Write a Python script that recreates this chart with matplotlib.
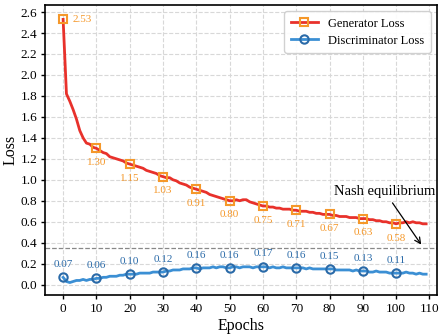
import matplotlib
matplotlib.use("Agg")
import matplotlib.pyplot as plt
import numpy as np

epochs = list(range(110))
gen_loss = [2.53, 1.82, 1.75, 1.67, 1.58, 1.47, 1.40, 1.35, 1.34, 1.31,
            1.30, 1.28, 1.26, 1.25, 1.22, 1.21, 1.20, 1.19, 1.18, 1.16,
            1.15, 1.14, 1.13, 1.12, 1.11, 1.09, 1.08, 1.07, 1.06, 1.04,
            1.03, 1.02, 1.02, 1.00, 0.99, 0.97, 0.96, 0.95, 0.93, 0.92,
            0.91, 0.90, 0.89, 0.88, 0.86, 0.85, 0.84, 0.83, 0.82, 0.81,
            0.80, 0.80, 0.81, 0.80, 0.81, 0.81, 0.79, 0.78, 0.77, 0.76,
            0.75, 0.75, 0.74, 0.74, 0.73, 0.73, 0.72, 0.72, 0.72, 0.71,
            0.71, 0.70, 0.70, 0.70, 0.69, 0.69, 0.68, 0.68, 0.67, 0.67,
            0.67, 0.66, 0.66, 0.65, 0.65, 0.65, 0.64, 0.64, 0.64, 0.63,
            0.63, 0.63, 0.62, 0.62, 0.61, 0.61, 0.60, 0.60, 0.59, 0.59,
            0.58, 0.59, 0.59, 0.60, 0.59, 0.60, 0.59, 0.59, 0.58, 0.58]
disc_loss = [0.07, 0.03, 0.02, 0.03, 0.04, 0.04, 0.05, 0.04, 0.05, 0.05,
             0.06, 0.06, 0.07, 0.07, 0.08, 0.08, 0.08, 0.09, 0.09, 0.10,
             0.10, 0.10, 0.10, 0.11, 0.11, 0.11, 0.11, 0.12, 0.12, 0.12,
             0.12, 0.13, 0.13, 0.14, 0.14, 0.14, 0.15, 0.15, 0.15, 0.16,
             0.16, 0.15, 0.16, 0.16, 0.16, 0.17, 0.16, 0.17, 0.17, 0.16,
             0.16, 0.17, 0.17, 0.16, 0.17, 0.17, 0.17, 0.16, 0.17, 0.17,
             0.17, 0.17, 0.16, 0.17, 0.16, 0.16, 0.17, 0.16, 0.16, 0.16,
             0.16, 0.16, 0.16, 0.15, 0.16, 0.15, 0.15, 0.15, 0.15, 0.15,
             0.15, 0.15, 0.14, 0.14, 0.14, 0.14, 0.14, 0.13, 0.14, 0.13,
             0.13, 0.13, 0.12, 0.12, 0.13, 0.12, 0.12, 0.12, 0.11, 0.11,
             0.11, 0.11, 0.11, 0.12, 0.11, 0.11, 0.10, 0.11, 0.10, 0.10]
marker_epochs = [0, 10, 20, 30, 40, 50, 60, 70, 80, 90, 100]
x_ticks = list(range(0, 111, 10))
y_ticks = [round(0.2 * i, 1) for i in range(14)]
equilibrium_level = 0.35
annot_text = "Nash equilibrium"
annot_xy = (108, 0.36)
annot_xytext = (96.5, 0.89)

plt.rcParams['font.family'] = ['Liberation Serif', 'DejaVu Serif']

red = '#e8312b'
orange = '#f5982a'
blue = '#3b8fd4'
dblue = '#2a6aa8'

fig = plt.figure(figsize=(4.48, 3.35), dpi=100)
ax = fig.add_axes([0.100, 0.119, 0.875, 0.866])

ax.plot(epochs, gen_loss, color=red, lw=2.0, marker='s', markevery=marker_epochs,
        markersize=6, markerfacecolor='none', markeredgecolor=orange, markeredgewidth=1.5,
        label='Generator Loss', zorder=3)
ax.plot(epochs, disc_loss, color=blue, lw=2.0, marker='o', markevery=marker_epochs,
        markersize=6, markerfacecolor='none', markeredgecolor=dblue, markeredgewidth=1.5,
        label='Discriminator Loss', zorder=3)

for e in marker_epochs:
    g = gen_loss[e]
    if e == 0:
        ax.annotate(f"{g:.2f}", (e, g), xytext=(7, 0), textcoords='offset points',
                    ha='left', va='center', fontsize=8, color=orange)
    else:
        ax.annotate(f"{g:.2f}", (e, g), xytext=(0, -7), textcoords='offset points',
                    ha='center', va='top', fontsize=8, color=orange)
    d = disc_loss[e]
    ax.annotate(f"{d:.2f}", (e, d), xytext=(0, 6), textcoords='offset points',
                ha='center', va='bottom', fontsize=8, color=dblue)

ax.axhline(equilibrium_level, color='#888888', ls='--', lw=0.9, zorder=1)
ax.annotate(annot_text, xy=annot_xy, xytext=annot_xytext, ha='center', va='center',
            fontsize=10.5, arrowprops=dict(arrowstyle='->', color='black', lw=0.9))

ax.set_xlim(-5.5, 112.2)
ax.set_ylim(-0.1, 2.667)
ax.set_xticks(x_ticks)
ax.set_yticks(y_ticks)
ax.set_xticklabels([str(t) for t in x_ticks], fontsize=9.5)
ax.set_yticklabels([f"{t:.1f}" for t in y_ticks], fontsize=9.5)
ax.set_xlabel("Epochs", fontsize=11.5, labelpad=2)
ax.set_ylabel("Loss", fontsize=11.5, labelpad=1)
ax.grid(True, ls='--', color='#d8d8d8', lw=0.8, zorder=0)
for s in ax.spines.values():
    s.set_linewidth(1.2)
ax.tick_params(direction='out', length=3, width=1, pad=2.5)
ax.legend(loc='upper right', fontsize=9, frameon=True, fancybox=True,
          framealpha=0.9, edgecolor='#cccccc', handlelength=2.2, borderpad=0.5,
          labelspacing=0.4)

fig.savefig("out.png", dpi=100)
